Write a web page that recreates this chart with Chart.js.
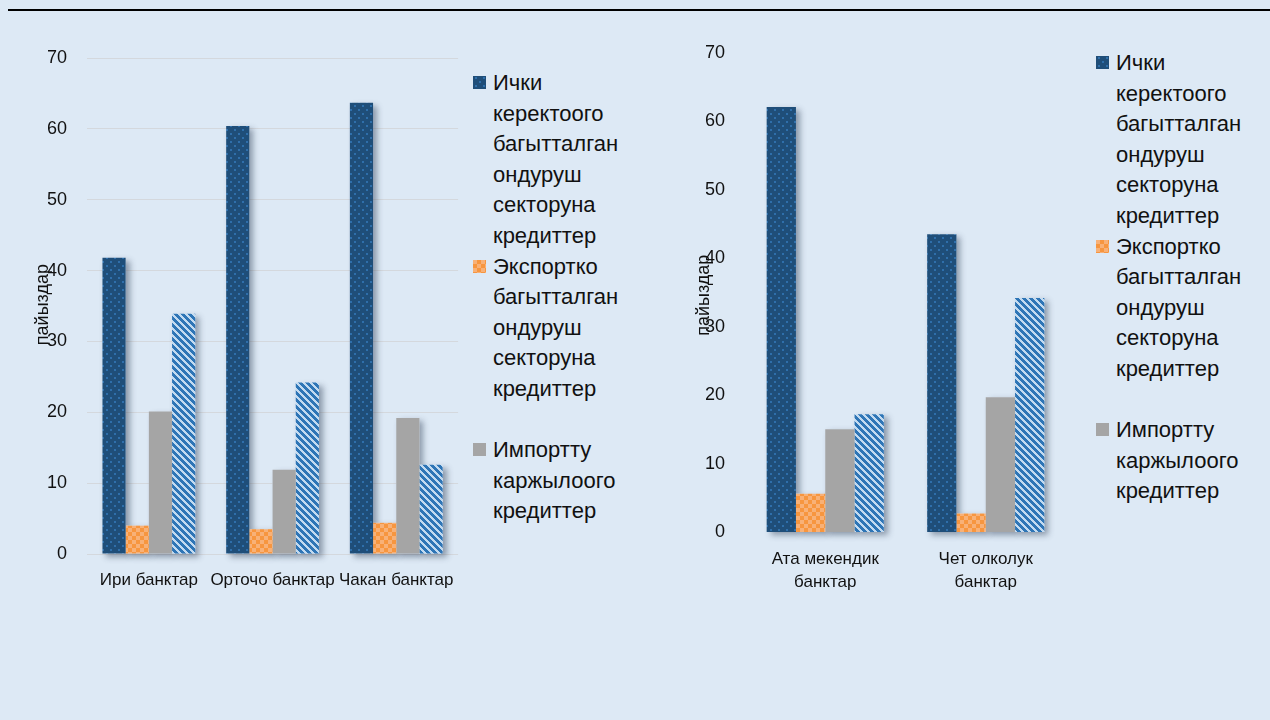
<!DOCTYPE html>
<html lang="ky">
<head>
<meta charset="utf-8">
<title>Кредиттер банктардын топтору боюнча</title>
<script src="https://cdn.jsdelivr.net/npm/chart.js@4.4.1/dist/chart.umd.min.js"></script>
<style>
  html, body { margin: 0; padding: 0; }
  body {
    width: 1270px; height: 720px; overflow: hidden; position: relative;
    background: #dde9f5;
    font-family: "Liberation Sans", Arial, sans-serif;
  }
  .rule { position: absolute; left: 8px; right: 0; top: 9px; height: 2px; background: #000; }
  canvas.chart { position: absolute; top: 0; }
  #bySize { left: 0; }
  #byOwner { left: 640px; }
  .legend {
    position: absolute; font-size: 22px; line-height: 30.6px; color: #111;
  }
  .legend .item { position: relative; padding-left: 20px; }
  .legend .item.gap { margin-top: 30.6px; }
  .legend .item canvas { position: absolute; left: 0; top: 8px; width: 13px; height: 13px; }
</style>
</head>
<body>
<div class="rule"></div>
<canvas id="bySize" class="chart" width="470" height="620"></canvas>
<canvas id="byOwner" class="chart" width="440" height="620"></canvas>
<div id="legendSize" class="legend" style="left:473px; top:68px;"></div>
<div id="legendOwner" class="legend" style="left:1096px; top:48px;"></div>

<script>
// Banks grouped by size
const sizeCategories = ['Ири банктар', 'Орточо банктар', 'Чакан банктар'];
const sizeDomestic = [41.8, 60.4, 63.7];
const sizeExport = [4.0, 3.5, 4.4];
const sizeImport = [20.1, 11.9, 19.2];
const sizeOther = [33.9, 24.2, 12.6];

// Banks grouped by ownership
const ownerCategories = [['Ата мекендик', 'банктар'], ['Чет олколук', 'банктар']];
const ownerDomestic = [62.1, 43.5];
const ownerExport = [5.6, 2.7];
const ownerImport = [15.0, 19.7];
const ownerOther = [17.2, 34.2];

// Series names shown in the legends (the fourth series has no legend entry)
const seriesNames = [
  'Ички керектоого багытталган ондуруш секторуна кредиттер',
  'Экспортко багытталган ондуруш секторуна кредиттер',
  'Импортту каржылоого кредиттер',
  ''
];
const yAxisCaption = 'пайыздар';
const yMin = 0, yMax = 70, yStep = 10;

const FONT = '"Liberation Sans", Arial, sans-serif';
const TEXT = '#111';
const fillKinds = ['dots', 'checker', 'solid', 'stripes'];

// Small repeating tiles used as bar fills
function makeFill(ctx, kind) {
  if (kind === 'solid') return '#a5a5a5';
  const t = document.createElement('canvas');
  const g = t.getContext('2d');
  if (kind === 'dots') {
    t.width = t.height = 8;
    g.fillStyle = '#1f4e79'; g.fillRect(0, 0, 8, 8);
    g.fillStyle = '#2f6fab';
    g.fillRect(2, 1, 2, 2); g.fillRect(6, 5, 2, 2);
  } else if (kind === 'checker') {
    t.width = t.height = 8;
    g.fillStyle = '#f7963f'; g.fillRect(0, 0, 8, 8);
    g.fillStyle = '#f8b177';
    g.fillRect(0, 0, 4, 4); g.fillRect(4, 4, 4, 4);
  } else if (kind === 'stripes') {
    t.width = t.height = 7;
    for (let y = 0; y < 7; y++) {
      for (let x = 0; x < 7; x++) {
        g.fillStyle = ((x - y + 7) % 7) < 4 ? '#2e75b6' : '#c2daf0';
        g.fillRect(x, y, 1, 1);
      }
    }
  }
  return ctx.createPattern(t, 'repeat');
}

// Soft drop shadow behind every bar, painted before the bars themselves
const barShadow = {
  id: 'barShadow',
  beforeDatasetsDraw(chart) {
    const ctx = chart.ctx;
    ctx.save();
    ctx.shadowColor = 'rgba(40, 55, 80, 0.45)';
    ctx.shadowBlur = 6;
    ctx.shadowOffsetX = 4;
    ctx.shadowOffsetY = 3;
    ctx.fillStyle = '#dde9f5';
    chart.data.datasets.forEach((ds, i) => {
      chart.getDatasetMeta(i).data.forEach(el => {
        const p = el.getProps(['x', 'y', 'base', 'width'], true);
        ctx.fillRect(p.x - p.width / 2, p.y, p.width, p.base - p.y);
      });
    });
    ctx.restore();
  }
};

// Rotated y-axis caption placed over the tick column
const axisCaption = {
  id: 'axisCaption',
  afterDraw(chart, args, opts) {
    const ctx = chart.ctx;
    const y = chart.scales.y.getPixelForValue(opts.value);
    const x = chart.chartArea.left - opts.offset;
    ctx.save();
    ctx.translate(x, y);
    ctx.rotate(-Math.PI / 2);
    ctx.font = '18px ' + FONT;
    ctx.fillStyle = TEXT;
    ctx.textAlign = 'center';
    ctx.textBaseline = 'middle';
    ctx.fillText(opts.text, 0, 0);
    ctx.restore();
  }
};

function buildChart(id, cfg) {
  const canvas = document.getElementById(id);
  const ctx = canvas.getContext('2d');
  const fills = fillKinds.map(k => makeFill(ctx, k));
  return new Chart(ctx, {
    type: 'bar',
    data: {
      labels: cfg.labels,
      datasets: cfg.series.map((vals, i) => ({
        label: seriesNames[i],
        data: vals,
        backgroundColor: fills[i],
        borderWidth: 0,
        categoryPercentage: cfg.catPct,
        barPercentage: 1
      }))
    },
    options: {
      responsive: false,
      animation: false,
      devicePixelRatio: 1,
      layout: { padding: cfg.padding },
      plugins: {
        legend: { display: false },
        tooltip: { enabled: false },
        axisCaption: { text: yAxisCaption, value: cfg.captionValue, offset: cfg.captionOffset }
      },
      scales: {
        x: {
          grid: { display: false, drawTicks: false },
          border: { display: false },
          ticks: {
            color: TEXT, font: { family: FONT, size: 17, lineHeight: 1.35 },
            padding: cfg.xPad, autoSkip: false, maxRotation: 0, minRotation: 0
          },
          afterFit(s) { s.height = cfg.xHeight; }
        },
        y: {
          min: yMin, max: yMax,
          ticks: { stepSize: yStep, color: TEXT, font: { family: FONT, size: 18 }, padding: 20 },
          grid: { display: cfg.grid, color: '#d4d8dd', lineWidth: 1, drawTicks: false },
          border: { display: false },
          afterFit(s) { s.width = 39; }
        }
      }
    },
    plugins: [barShadow, axisCaption]
  });
}

function buildLegend(id, count) {
  const box = document.getElementById(id);
  for (let i = 0; i < count; i++) {
    const item = document.createElement('div');
    item.className = 'item' + (i === 2 ? ' gap' : '');
    const sw = document.createElement('canvas');
    sw.width = 13; sw.height = 13;
    const sctx = sw.getContext('2d');
    sctx.fillStyle = makeFill(sctx, fillKinds[i]);
    sctx.fillRect(0, 0, 13, 13);
    item.appendChild(sw);
    seriesNames[i].split(' ').forEach((word, j) => {
      if (j) item.appendChild(document.createElement('br'));
      item.appendChild(document.createTextNode(word));
    });
    box.appendChild(item);
  }
}

buildChart('bySize', {
  labels: sizeCategories,
  series: [sizeDomestic, sizeExport, sizeImport, sizeOther],
  catPct: 0.75,
  padding: { left: 48, right: 9, top: 58, bottom: 26 },
  xHeight: 40, xPad: 15, grid: true,
  captionValue: 35.2, captionOffset: 44
});

buildChart('byOwner', {
  labels: ownerCategories,
  series: [ownerDomestic, ownerExport, ownerImport, ownerOther],
  catPct: 0.73,
  padding: { left: 66, right: 14, top: 53, bottom: 28 },
  xHeight: 60, xPad: 16, grid: false,
  captionValue: 34.6, captionOffset: 41
});

buildLegend('legendSize', 3);
buildLegend('legendOwner', 3);
</script>
</body>
</html>
